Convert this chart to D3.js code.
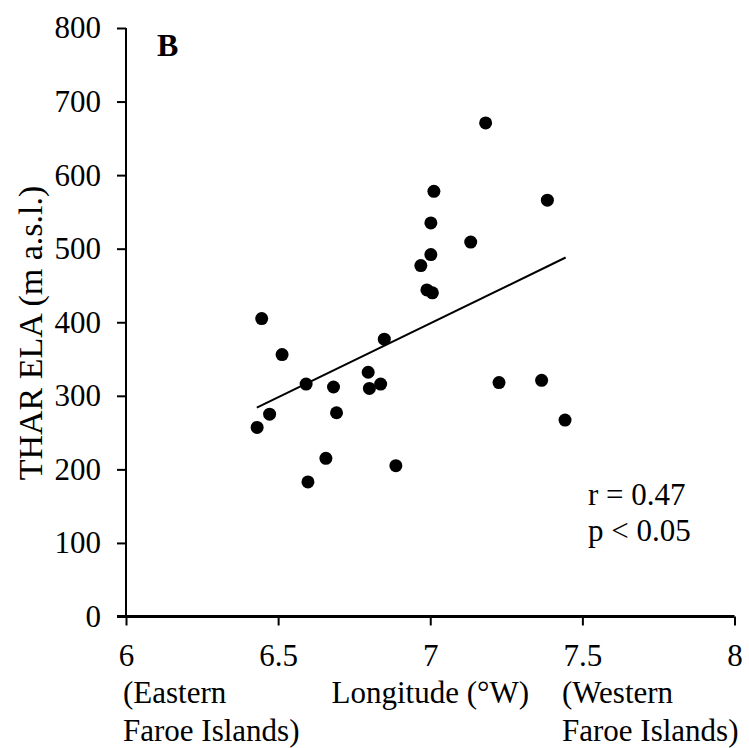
<!DOCTYPE html>
<html>
<head>
<meta charset="utf-8">
<script src="https://cdn.jsdelivr.net/npm/d3@7"></script>
<style>
  html, body { margin: 0; padding: 0; background: #fff; }
  svg { display: block; }
  svg text { font-family: 'Liberation Serif', 'Times New Roman', serif !important; fill: #000; }
</style>
</head>
<body>
<svg id="chart" width="749" height="748"></svg>
<script>
// Data
const longitude = [6.446, 6.513, 6.592, 6.682, 6.472, 6.692, 6.431, 6.657, 6.598,
                   7.182, 7.012, 7.385, 7.002, 7.133, 7.002, 6.969, 6.989, 7.007, 6.849,
                   6.796, 6.800, 6.837, 7.226, 7.366, 7.443, 6.887];
const ela = [405, 356, 316, 312, 275, 277, 257, 215, 183,
             671, 578, 566, 535, 509, 492, 477, 444, 440, 377,
             332, 310, 316, 318, 321, 267, 205];
const trendX = [6.43, 7.445];
const trendY = [284, 488];
const xTicks = [6, 6.5, 7, 7.5, 8];
const yTicks = [0, 100, 200, 300, 400, 500, 600, 700, 800];
const panelLabel = "B";
const statsText = ["r = 0.47", "p < 0.05"];
const xTitle = "Longitude (°W)";
const yTitle = "THAR ELA (m a.s.l.)";
const eastLabel = ["(Eastern", "Faroe Islands)"];
const westLabel = ["(Western", "Faroe Islands)"];

const svg = d3.select("#chart");
const x = d3.scaleLinear().domain([6, 8]).range([126, 734.5]);
const y = d3.scaleLinear().domain([0, 800]).range([616.5, 28]);

// Y axis
const yAxis = svg.append("g").attr("transform", `translate(${x(6)},0)`)
  .call(d3.axisLeft(y).tickValues(yTicks).tickSize(9).tickPadding(16).tickFormat(d3.format("d")));
yAxis.attr("font-family", null).attr("font-size", null);
yAxis.select(".domain").attr("stroke", "#000").attr("stroke-width", 2).attr("d", `M0,${y(800)}V${y(0)}`);
yAxis.selectAll(".tick line").attr("stroke", "#000").attr("stroke-width", 2);
yAxis.selectAll(".tick text").style("font-size", "31px").attr("fill", "#000");

// X axis
const xAxis = svg.append("g").attr("transform", `translate(0,${y(0)})`)
  .call(d3.axisBottom(x).tickValues(xTicks).tickSize(9).tickPadding(18).tickFormat(d => String(d)));
xAxis.attr("font-family", null).attr("font-size", null);
xAxis.select(".domain").attr("stroke", "#000").attr("stroke-width", 3).attr("d", `M${x(6) - 9},0H${x(8)}`);
xAxis.selectAll(".tick line").attr("stroke", "#000").attr("stroke-width", 2);
xAxis.selectAll(".tick text").style("font-size", "31px").attr("fill", "#000")
  .attr("dy", "0.71em");

// Trend line
svg.append("line")
  .attr("x1", x(trendX[0])).attr("y1", y(trendY[0]))
  .attr("x2", x(trendX[1])).attr("y2", y(trendY[1]))
  .attr("stroke", "#000").attr("stroke-width", 2);

// Points
svg.append("g").selectAll("circle")
  .data(longitude.map((d, i) => [d, ela[i]]))
  .join("circle")
  .attr("cx", d => x(d[0])).attr("cy", d => y(d[1]))
  .attr("r", 6.5).attr("fill", "#000");

// Panel letter
svg.append("text").attr("x", 157).attr("y", 56)
  .style("font-size", "32px").style("font-weight", "bold").text(panelLabel);

// Stats
svg.append("g").selectAll("text").data(statsText).join("text")
  .attr("x", 588).attr("y", (d, i) => 505 + i * 36)
  .style("font-size", "31px").text(d => d);

// Y title
svg.append("text")
  .attr("transform", `translate(42,333) rotate(-90)`)
  .attr("text-anchor", "middle")
  .style("font-size", "34px").text(yTitle);

// X title
svg.append("text").attr("x", x(7)).attr("y", 703).attr("text-anchor", "middle")
  .style("font-size", "31px").text(xTitle);

// East/West labels
svg.append("g").selectAll("text").data(eastLabel).join("text")
  .attr("x", 123).attr("y", (d, i) => 703 + i * 38)
  .style("font-size", "31px").text(d => d);
svg.append("g").selectAll("text").data(westLabel).join("text")
  .attr("x", 562).attr("y", (d, i) => 703 + i * 38)
  .style("font-size", "31px").text(d => d);
</script>
</body>
</html>
